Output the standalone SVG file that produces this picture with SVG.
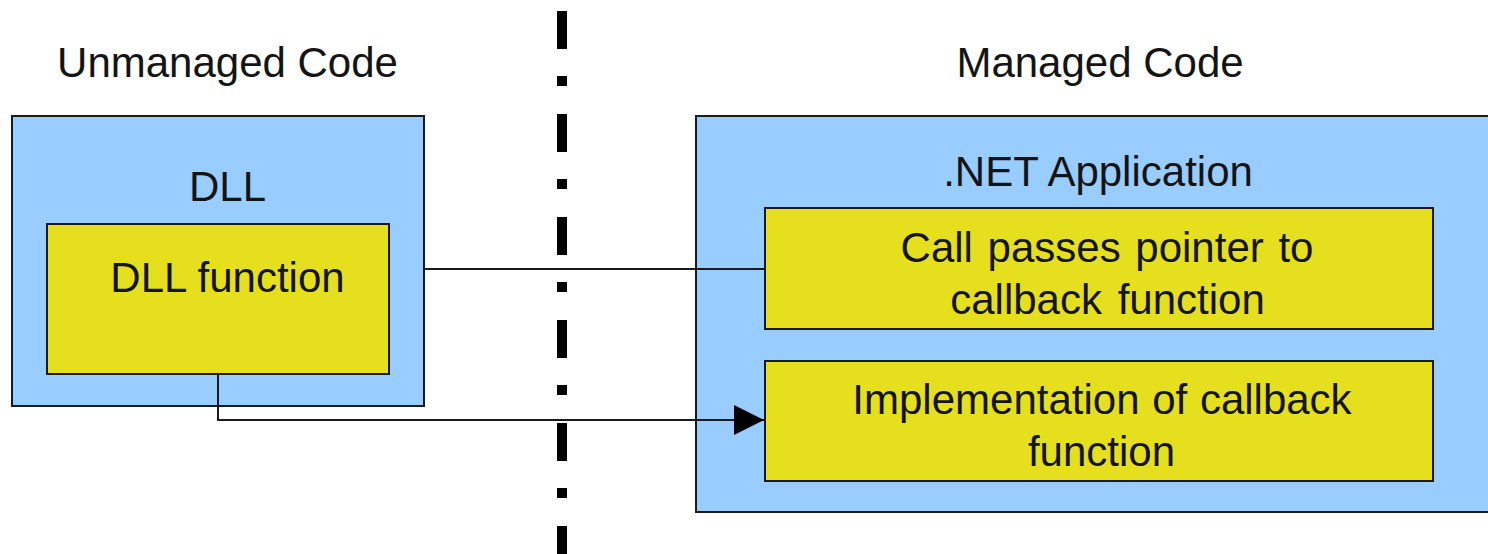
<svg xmlns="http://www.w3.org/2000/svg" width="1488" height="554" viewBox="0 0 1488 554">
  <style>
    .label { font-family: "Liberation Sans", Arial, sans-serif; font-size: 42px; fill: #141414; text-anchor: middle; }
    .container { fill: #99CCFF; stroke: #1a1a1a; stroke-width: 2; }
    .block { fill: #E6DF1E; stroke: #1a1a1a; stroke-width: 2; }
    .wire { fill: none; stroke: #1a1a1a; stroke-width: 2; }
    .divider { fill: none; stroke: #000; stroke-width: 10; stroke-dasharray: 38 27 10 28; }
  </style>
  <defs>
    <marker id="arrow" viewBox="0 0 30 30" refX="30" refY="15" markerWidth="30" markerHeight="30" markerUnits="userSpaceOnUse" orient="auto">
      <path d="M0,0 L30,15 L0,30 Z" fill="#000"/>
    </marker>
  </defs>

  <rect width="1488" height="554" fill="#fff"/>

  <!-- boundary between unmanaged and managed code -->
  <line class="divider" x1="562" y1="11" x2="562" y2="554"/>

  <text class="label" x="227.5" y="77">Unmanaged Code</text>
  <text class="label" x="1100" y="77">Managed Code</text>

  <g id="dll">
    <rect class="container" x="12" y="116" width="412" height="290"/>
    <text class="label" x="227.5" y="201">DLL</text>
  </g>

  <g id="dll-function">
    <rect class="block" x="47" y="224" width="342" height="150"/>
    <text class="label" x="227.5" y="292">DLL function</text>
  </g>

  <g id="net-app">
    <rect class="container" x="696" y="116" width="800" height="396"/>
    <text class="label" x="1098" y="186">.NET Application</text>
  </g>

  <g id="call-passes-pointer">
    <rect class="block" x="765" y="208" width="668" height="121"/>
    <text class="label" x="1107" y="262" style="word-spacing:3px">Call passes pointer to</text>
    <text class="label" x="1107.5" y="314" style="word-spacing:4px">callback function</text>
  </g>

  <g id="callback-impl">
    <rect class="block" x="765" y="361" width="668" height="120"/>
    <text class="label" x="1102" y="414" style="word-spacing:1px">Implementation of callback</text>
    <text class="label" x="1101.5" y="466">function</text>
  </g>

  <g id="connectors">
    <line class="wire" x1="424" y1="269" x2="765" y2="269"/>
    <polyline class="wire" points="218,374 218,420 764,420" marker-end="url(#arrow)"/>
  </g>
</svg>
